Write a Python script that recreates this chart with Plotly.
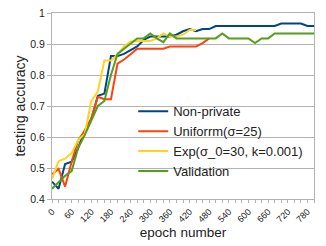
import plotly.graph_objects as go

step = 20
epochs_full = [i * step for i in range(41)]  # 0..800

nonprivate = [0.456, 0.433, 0.513, 0.52, 0.565, 0.62, 0.657, 0.733, 0.74, 0.861,
              0.861, 0.868, 0.88, 0.892, 0.913, 0.924, 0.924, 0.924, 0.924, 0.93,
              0.941, 0.948, 0.941, 0.948, 0.948, 0.958, 0.958, 0.958, 0.958, 0.958,
              0.958, 0.958, 0.958, 0.958, 0.958, 0.966, 0.966, 0.966, 0.966, 0.958, 0.958]
uniform = [0.48, 0.497, 0.44, 0.52, 0.59, 0.62, 0.66, 0.73, 0.722, 0.722,
           0.837, 0.85, 0.867, 0.885, 0.885, 0.885, 0.885, 0.885, 0.892, 0.892,
           0.892, 0.892, 0.892, 0.903, 0.918]
exp_decay = [0.465, 0.522, 0.53, 0.548, 0.59, 0.61, 0.716, 0.747, 0.847, 0.847,
             0.866, 0.892, 0.908, 0.91, 0.91, 0.91, 0.918, 0.934, 0.924, 0.924,
             0.93, 0.945, 0.945]
validation = [0.433, 0.454, 0.475, 0.49, 0.565, 0.606, 0.652, 0.70, 0.716, 0.80,
              0.868, 0.885, 0.903, 0.918, 0.918, 0.934, 0.918, 0.906, 0.934, 0.918,
              0.918, 0.918, 0.918, 0.918, 0.918, 0.918, 0.934, 0.918, 0.918, 0.918,
              0.918, 0.903, 0.918, 0.918, 0.934, 0.934, 0.934, 0.934, 0.934, 0.934, 0.934]

names = ["Non-private", "Uniforrm(σ=25)", "Exp(σ_0=30, k=0.001)", "Validation"]
colors = ["#004586", "#ff420e", "#ffd320", "#579d1c"]
series = [nonprivate, uniform, exp_decay, validation]

x_ticks = list(range(0, 781, 60))
y_ticks = [0.4, 0.5, 0.6, 0.7, 0.8, 0.9, 1.0]

fig = go.Figure()
for i, (name, col, ys) in enumerate(zip(names, colors, series)):
    fig.add_trace(go.Scatter(
        x=epochs_full[:len(ys)], y=ys, mode="lines", name=name,
        line=dict(color=col, width=2),
    ))

axis_col = "#b3b3b3"
fig.update_layout(
    width=326, height=246,
    margin=dict(l=52, r=12, t=7, b=47),
    paper_bgcolor="white", plot_bgcolor="white",
    font=dict(family="Liberation Sans, Arial, sans-serif", size=10, color="#222"),
    showlegend=True,
    legend=dict(x=0.31, y=0.31, xanchor="left", yanchor="middle",
                bgcolor="rgba(0,0,0,0)", font=dict(size=13, color="#222"),
                itemwidth=30, traceorder="normal"),
)
fig.update_xaxes(
    range=[0, 800], tickvals=x_ticks, ticktext=[str(v) for v in x_ticks],
    tickangle=-45, showgrid=False, showline=True, linecolor=axis_col, mirror=True,
    ticks="outside", ticklen=3, tickcolor=axis_col,
    minor=dict(dtick=20, tick0=0, ticks="outside", ticklen=3, tickcolor=axis_col, showgrid=False),
    title=dict(text="epoch number", font=dict(size=13.5), standoff=0),
    tickfont=dict(size=9), zeroline=False,
)
fig.update_yaxes(
    range=[0.4, 1.0], tickvals=y_ticks, ticktext=["0.4", "0.5", "0.6", "0.7", "0.8", "0.9", "1"],
    showgrid=True, gridcolor=axis_col, gridwidth=1,
    showline=True, linecolor=axis_col, mirror=True,
    ticks="outside", ticklen=4, tickcolor=axis_col,
    title=dict(text="testing accuracy", font=dict(size=14), standoff=1),
    tickfont=dict(size=10.5), zeroline=False,
)

fig.write_html("out.html", config={"displayModeBar": False},
               post_script="document.body.style.margin='0';")
